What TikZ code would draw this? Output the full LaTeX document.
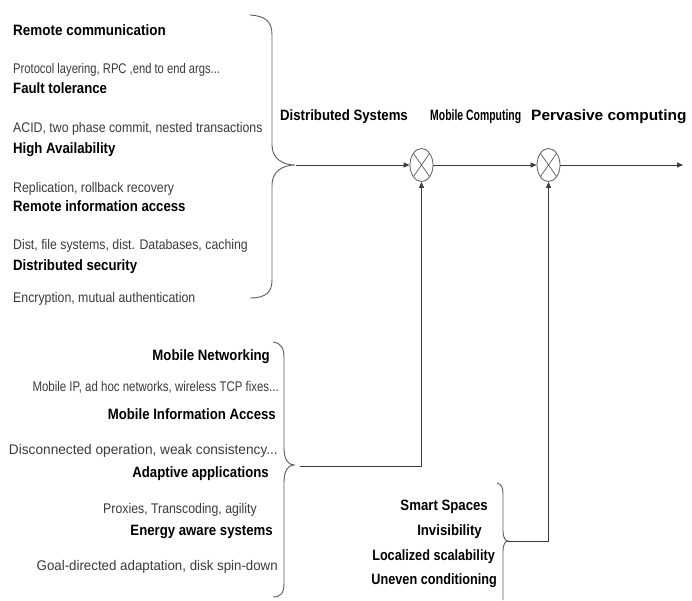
\documentclass[tikz,border=0pt]{standalone}
\usepackage{fontspec}
\usepackage{graphicx}
\newfontfamily\nf[FakeStretch=0.88]{Liberation Sans}
\usetikzlibrary{arrows.meta,shapes.geometric}
\definecolor{txtgray}{HTML}{3A3A3A}
\definecolor{linegray}{HTML}{3C3C3C}
\definecolor{bracegray}{HTML}{5A5A5A}
\newcommand\hsq[2]{\scalebox{#1}[1]{#2}}
\tikzset{
  head/.style={inner sep=0pt, font=\nf\bfseries\fontsize{15}{17}\selectfont, text=black},
  sub/.style={inner sep=0pt, font=\nf\fontsize{14}{16}\selectfont, text=txtgray},
  bracepath/.style={draw=bracegray, line width=0.9pt},
  conn/.style={draw=linegray, line width=1pt},
  arr/.style={conn, -{Triangle[length=6pt,width=5pt]}},
  mult/.style={ellipse, draw=bracegray, line width=0.8pt, minimum width=23pt, minimum height=33pt, inner sep=0pt,
    path picture={\draw[bracegray, line width=0.7pt] (path picture bounding box.north west) -- (path picture bounding box.south east)
      (path picture bounding box.north east) -- (path picture bounding box.south west);}}
}
\begin{document}
\begin{tikzpicture}[x=1pt,y=-1pt]
\useasboundingbox (0,0) rectangle (692,600);
% top group
\node[head, anchor=mid west] (rc) at (13,33) {\hsq{1.02}{Remote communication}};
\node[sub,  anchor=mid west] (rcs) at (13,71) {\hsq{0.91}{Protocol layering, RPC ,end to end args...}};
\node[head, anchor=mid west] (ft) at (13,91) {Fault tolerance};
\node[sub,  anchor=mid west] (fts) at (13,130) {ACID, two phase commit, nested transactions};
\node[head, anchor=mid west] (ha) at (13,151) {High Availability};
\node[sub,  anchor=mid west] (has) at (13,190) {Replication, rollback recovery};
\node[head, anchor=mid west] (ria) at (13,209) {Remote information access};
\node[sub,  anchor=mid west] (rias) at (13,247) {Dist, file systems, dist. Databases, caching};
\node[head, anchor=mid west] (ds) at (13,268) {Distributed security};
\node[sub,  anchor=mid west] (dss) at (13,300) {Encryption, mutual authentication};
% top brace
\draw[bracepath] (250,15) .. controls (266,16) and (272,22) .. (272,35) -- (272,145)
  .. controls (272,158) and (282,165) .. (295,165)
  .. controls (282,165) and (272,172) .. (272,185) -- (272,280)
  .. controls (272,292) and (266,298) .. (250,298);
\coordinate (tipA) at (296,165);
% column labels
\node[head, anchor=mid west] (lds) at (280,118) {Distributed Systems};
\node[head, anchor=mid west] (lmc) at (430,118) {\hsq{0.79}{Mobile Computing}};
\node[head, anchor=mid west] (lpc) at (531,118) {\hsq{1.17}{Pervasive computing}};
% multipliers
\node[mult] (c1) at (421.5,165) {};
\node[mult] (c2) at (548.5,165) {};
\coordinate (endA) at (683,165);
\draw[arr] (tipA) -- (c1.west);
\draw[arr] (c1.east) -- (c2.west);
\draw[arr] (c2.east) -- (endA);
% middle group
\node[head, anchor=mid east] (mn) at (270,358) {Mobile Networking};
\node[sub,  anchor=mid east] (mns) at (279,389) {\hsq{0.93}{Mobile IP, ad hoc networks, wireless TCP fixes...}};
\node[head, anchor=mid east] (mia) at (276,417) {Mobile Information Access};
\node[sub,  anchor=mid east] (mias) at (278,452) {\hsq{1.11}{Disconnected operation, weak consistency...}};
\node[head, anchor=mid east] (aa) at (269,475) {Adaptive applications};
\node[sub,  anchor=mid east] (aas) at (257,511) {Proxies, Transcoding, agility};
\node[head, anchor=mid east] (eas) at (273,533) {Energy aware systems};
\node[sub,  anchor=mid east] (eass) at (278,568) {\hsq{1.08}{Goal-directed adaptation, disk spin-down}};
% middle brace
\draw[bracepath] (273,342) .. controls (281,343) and (284,348) .. (284,358) -- (284,448)
  .. controls (284,459) and (288,465) .. (294,465)
  .. controls (288,465) and (284,471) .. (284,482) -- (284,583)
  .. controls (284,593) and (281,597) .. (273,597);
\coordinate (tipB) at (300,466);
\draw[arr] (tipB) -| (c1.south);
% bottom-right group
\node[head, anchor=mid east] (ss) at (488,508) {Smart Spaces};
\node[head, anchor=mid east] (inv) at (482,533) {Invisibility};
\node[head, anchor=mid east] (ls) at (495,558) {\hsq{0.96}{Localized scalability}};
\node[head, anchor=mid east] (uc) at (497,582) {\hsq{0.96}{Uneven conditioning}};
\draw[bracepath] (497,483) .. controls (501,484) and (503,487) .. (503,494) -- (503,531)
  .. controls (503,537) and (505,541) .. (508,541)
  .. controls (505,541) and (503,545) .. (503,551) -- (503,600);
\coordinate (tipC) at (508,541);
\draw[arr] (tipC) -| (c2.south);
\end{tikzpicture}
\end{document}
